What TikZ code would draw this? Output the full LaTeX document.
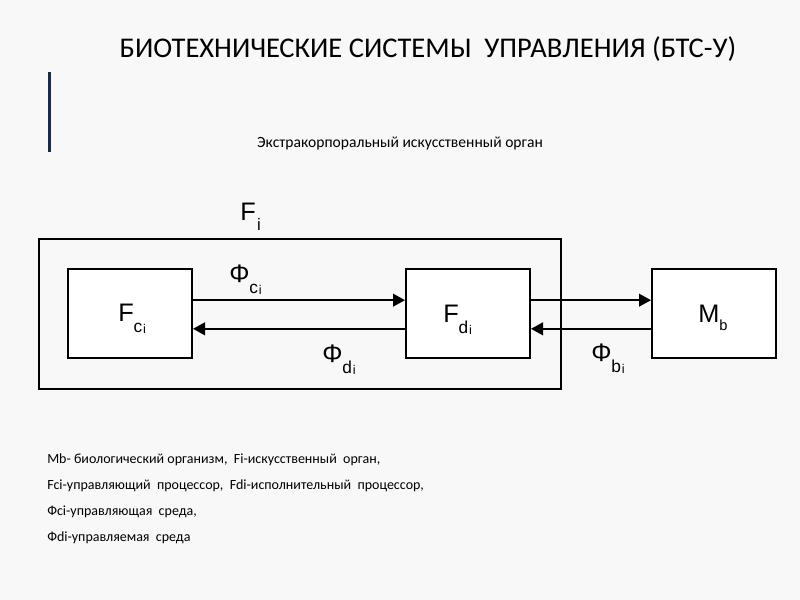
\documentclass[tikz,border=0pt]{standalone}
\usepackage{fontspec}
\setmainfont{Carlito}
\newfontfamily\arialfont{Liberation Sans}
\usetikzlibrary{arrows.meta,positioning}
\definecolor{slidebg}{RGB}{248,248,248}
\definecolor{barnavy}{RGB}{23,41,79}
% #1 drop, #2 size, #3 letter
\newcommand{\subone}[3]{\raisebox{-#1}{\fontsize{#2}{#2}\selectfont #3}}
\newcommand{\subtwo}[1]{\raisebox{-8.5pt}{\fontsize{13}{13}\selectfont #1\kern0.5pt\raisebox{-0.8pt}{\fontsize{9.5}{9.5}\selectfont i}}}
\tikzset{
  block/.style={
    draw=black,
    line width=1.5pt,
    fill=white,
    minimum width=93pt,
    minimum height=66.75pt,
    inner sep=0pt
  },
  frame/.style={
    draw=black,
    line width=1.5pt,
    minimum width=391.5pt,
    minimum height=112.5pt,
    inner sep=0pt
  },
  flow/.style={
    -{Triangle[length=9pt,width=9.5pt]},
    line width=1.4pt
  },
  flowlabel/.style={anchor=base west, inner sep=0pt, font=\arialfont\fontsize{19}{22}\selectfont},
  legend/.style={anchor=base west, inner sep=0pt, font=\fontsize{10.5}{12}\selectfont}
}

\begin{document}
\begin{tikzpicture}[x=0.75pt, y=-0.75pt]
  \fill[slidebg] (0,0) rectangle (800,600);
  \useasboundingbox (0,0) rectangle (800,600);
  % title and bar
  \node[font=\fontsize{21.4}{26}\selectfont] (title) at (428,49) {БИОТЕХНИЧЕСКИЕ СИСТЕМЫ\ \ УПРАВЛЕНИЯ (БТС-У)};
  \draw[barnavy, line width=1.6pt] (49.5,72) -- (49.5,152);
  \node[font=\fontsize{11.7}{14}\selectfont] (subtitle) at (400,143) {Экстракорпоральный искусственный орган};
  % blocks
  \node[frame] (fi) at (300,314) {};
  \node[block] (fc) at (130,313.5) {};
  \node[block] (fd) at (468,313.5) {};
  \node[block] (mb) at (714,313.5) {};
  \node[flowlabel] (filabel) at (240,220) {F\kern1pt\subone{7.5pt}{12.5}{i}};
  \node[flowlabel] (fctext) at (118,321) {F\subtwo{c}};
  \node[flowlabel] (fdtext) at (443,322) {F\subtwo{d}};
  \node[flowlabel] (mbtext) at (698,322) {M\subone{6pt}{11}{b}};
  % flows
  \draw[flow] ([yshift=10pt]fc.east) -- ([yshift=10pt]fd.west);
  \draw[flow] ([yshift=-11.5pt]fd.west) -- ([yshift=-11.5pt]fc.east);
  \draw[flow] ([yshift=10pt]fd.east) -- ([yshift=10pt]mb.west);
  \draw[flow] ([yshift=-11.5pt]mb.west) -- ([yshift=-11.5pt]fd.east);
  \node[flowlabel] (phic) at (229,282) {Φ\subtwo{c}};
  \node[flowlabel] (phid) at (322,362) {Φ\subtwo{d}};
  \node[flowlabel] (phib) at (591,361) {Φ\subtwo{b}};
  % legend
  \node[legend] (leg1) at (47,463) {Mb- биологический организм,\ \ Fi-искусственный\ \ орган,};
  \node[legend] (leg2) at (47,489) {Fci-управляющий\ \ процессор,\ \ Fdi-исполнительный\ \ процессор,};
  \node[legend] (leg3) at (47,515) {Фci-управляющая\ \ среда,};
  \node[legend] (leg4) at (47,541) {Фdi-управляемая\ \ среда};
\end{tikzpicture}
\end{document}
